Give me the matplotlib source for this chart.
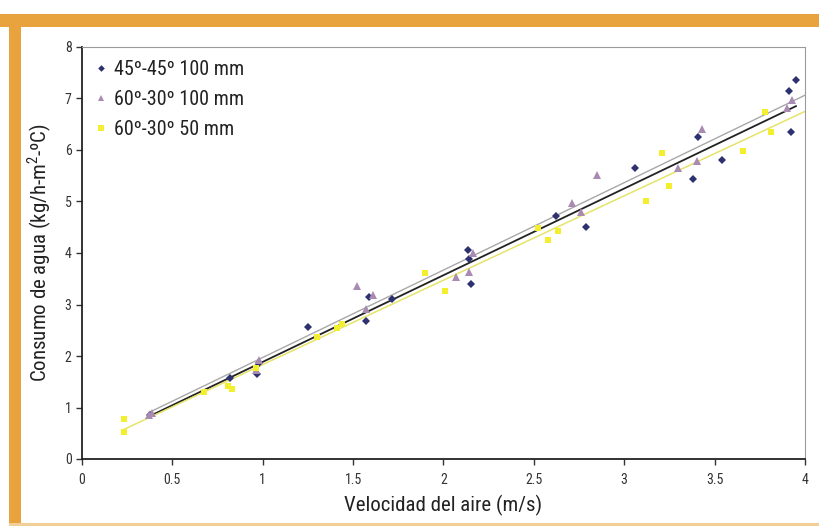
import numpy as np
import matplotlib
matplotlib.use("Agg")
import matplotlib.pyplot as plt
from matplotlib import font_manager
from matplotlib.patches import Rectangle

# ---- data ----
s1_label = "45º-45º 100 mm"
s1_x = [0.376, 0.82, 0.967, 0.98, 1.25, 1.57, 1.59, 1.715, 2.135, 2.14, 2.15,
        2.62, 2.79, 3.06, 3.38, 3.41, 3.54, 3.91, 3.92, 3.95]
s1_y = [0.85, 1.58, 1.65, 1.86, 2.56, 2.67, 3.15, 3.10, 4.06, 3.88, 3.39,
        4.71, 4.50, 5.66, 5.43, 6.25, 5.81, 7.14, 6.34, 7.35]

s2_label = "60º-30º 100 mm"
s2_x = [0.37, 0.385, 0.963, 0.98, 1.52, 1.57, 1.61, 2.07, 2.14, 2.165,
        2.71, 2.76, 2.85, 3.30, 3.40, 3.43, 3.90, 3.93]
s2_y = [0.85, 0.89, 1.73, 1.92, 3.35, 2.91, 3.18, 3.53, 3.63, 4.00,
        4.98, 4.80, 5.51, 5.66, 5.79, 6.41, 6.81, 6.97]

s3_label = "60º-30º 50 mm"
s3_x = [0.23, 0.235, 0.675, 0.81, 0.83, 0.96, 1.30, 1.41, 1.44, 1.90, 2.01,
        2.525, 2.58, 2.635, 3.12, 3.21, 3.25, 3.655, 3.78, 3.81]
s3_y = [0.77, 0.53, 1.31, 1.42, 1.36, 1.76, 2.36, 2.54, 2.62, 3.62, 3.26,
        4.49, 4.25, 4.43, 5.01, 5.94, 5.31, 5.98, 6.74, 6.34]

x_ticks = [0, 0.5, 1, 1.5, 2, 2.5, 3, 3.5, 4]
x_tick_labels = ["0", "0.5", "1", "1.5", "2", "2.5", "3", "3.5", "4"]
y_ticks = [0, 1, 2, 3, 4, 5, 6, 7, 8]
x_label = "Velocidad del aire (m/s)"
y_label = "Consumo de agua (kg/h-m$^2$-ºC)"

# ---- fonts ----
avail = {f.name for f in font_manager.fontManager.ttflist}
narrow = None
for cand in ["Liberation Sans Narrow", "Roboto Condensed", "Open Sans Condensed", "DejaVu Sans Condensed"]:
    if cand in avail:
        narrow = cand
        break
fam = [narrow, "DejaVu Sans"] if narrow else ["DejaVu Sans"]
plt.rcParams['font.family'] = fam
plt.rcParams['mathtext.fontset'] = 'custom'
plt.rcParams['mathtext.rm'] = fam[0]

fig = plt.figure(figsize=(8.2, 5.26), dpi=100)
fig.patch.set_facecolor("white")

orange = "#E9A33E"
# orange frame (page decoration)
fig.patches.append(Rectangle((0.0, 1 - 27/526), 1.0, 13/526, transform=fig.transFigure,
                             facecolor=orange, edgecolor="none", zorder=0))
fig.patches.append(Rectangle((9/820, 0.0), 12/820, 1 - 14/526, transform=fig.transFigure,
                             facecolor=orange, edgecolor="none", zorder=0))
fig.patches.append(Rectangle((9/820, 0.0), 1 - 9/820, 3/526, transform=fig.transFigure,
                             facecolor="#F2CF95", edgecolor="none", zorder=0))

ax = fig.add_axes([82/820, 1 - 459/526, (805 - 82)/820, (459 - 47)/526])
ax.set_xlim(0, 4)
ax.set_ylim(0, 8)

navy = "#2E3170"
mauve = "#A98BB2"
yellow = "#F3EE2E"

series = [
    (s1_x, s1_y, s1_label, "D", navy, 4.5, "#222222", 1.3, None),
    (s2_x, s2_y, s2_label, "^", mauve, 6, "#A8A8A8", 1.0, 4.0),
    (s3_x, s3_y, s3_label, "s", yellow, 5, "#E6E36A", 1.1, 4.0),
]

handles = []
for xs, ys, lab, mk, col, ms, lcol, lw, xend in series:
    xs_a = np.array(xs)
    ys_a = np.array(ys)
    h, = ax.plot(xs_a, ys_a, linestyle="none", marker=mk, color=col, markersize=ms,
                 markeredgewidth=0, label=lab, zorder=3)
    handles.append(h)
    k, b = np.polyfit(xs_a, ys_a, 1)
    x0 = xs_a.min()
    x1 = xend if xend is not None else xs_a.max()
    xx = np.array([x0, x1])
    ax.plot(xx, k * xx + b, color=lcol, linewidth=lw, zorder=2)

ax.set_xticks(x_ticks)
ax.set_xticklabels(x_tick_labels)
ax.set_yticks(y_ticks)
ax.tick_params(axis="both", direction="out", length=4, width=1, labelsize=10,
               colors="#333333", labelcolor="#333333")
ax.tick_params(axis="x", pad=6)

for side in ["left", "bottom"]:
    ax.spines[side].set_color("#222222")
    ax.spines[side].set_linewidth(1.3)
for side in ["right", "top"]:
    ax.spines[side].set_color("#9A9A9A")
    ax.spines[side].set_linewidth(0.8)
    ax.spines[side].set_linestyle((0, (2, 1)))

ax.set_xlabel(x_label, fontsize=15, color="#222222", labelpad=6)
ax.set_ylabel(y_label, fontsize=15, color="#222222", labelpad=8)

leg = ax.legend(handles=handles, loc="upper left", frameon=False, fontsize=14.5,
                handlelength=0.6, handletextpad=0.35, labelspacing=0.55,
                borderaxespad=0.25, markerscale=0.75)
for t in leg.get_texts():
    t.set_color("#222222")

fig.savefig("out.png", dpi=100, facecolor="white")
